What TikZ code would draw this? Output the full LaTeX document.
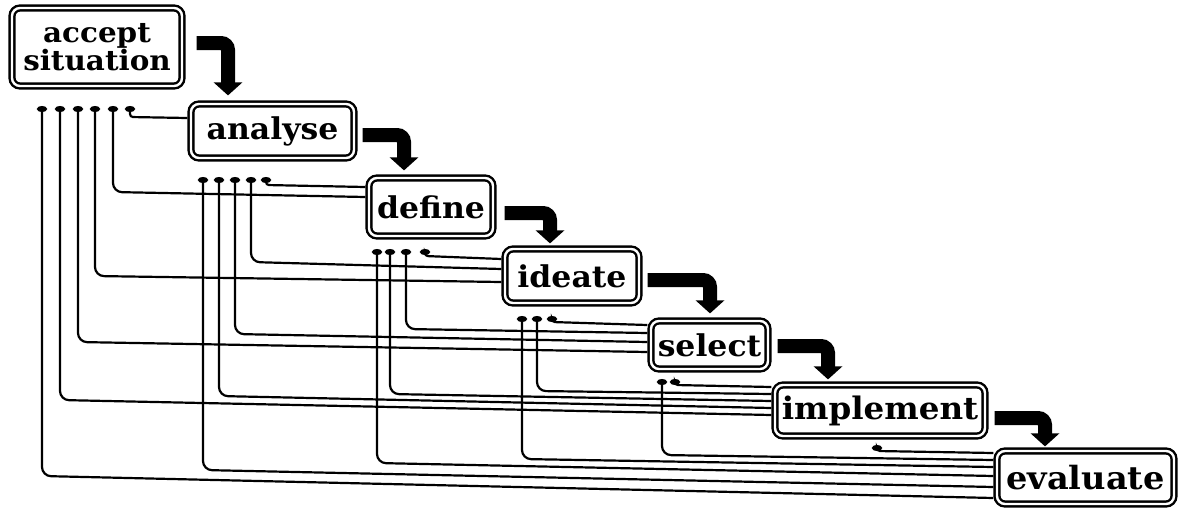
\documentclass[tikz,border=0pt]{standalone}
\usepackage{fontspec}
\setmainfont{DejaVu Serif}
\newfontfamily\boxfont{DejaVu Serif}[FakeStretch=1.05]
\usetikzlibrary{arrows.meta}
\begin{document}
\begin{tikzpicture}[x=1pt,y=-1pt,
  box/.style={draw, double, double distance=2.4pt, line width=2.4pt, rounded corners=8pt,
    inner sep=0pt, outer sep=3.6pt, font=\boxfont\bfseries\fontsize{30}{30}\selectfont},
  fb/.style={line width=2.2pt, rounded corners=9pt, -{Circle[length=6pt,width=10pt]}},
  hook/.style={fb, rounded corners=3pt},
  flow/.style={line width=14pt, rounded corners=7pt, -{Triangle[length=13pt,width=28pt]}}]
\useasboundingbox (0,0) rectangle (1182,512);

% boxes
\node[box, minimum width=170pt, minimum height=78pt, align=center,
  font=\boxfont\bfseries\fontsize{28}{25}\selectfont] (acc) at (97,47) {accept\\situation};
\node[box, minimum width=163pt, minimum height=54pt] (ana) at (272.5,131) {analyse};
\node[box, minimum width=124pt, minimum height=58pt] (def) at (431,207) {define};
\node[box, minimum width=134pt, minimum height=54pt] (ide) at (572,276) {ideate};
\node[box, minimum width=117pt, minimum height=48pt] (sel) at (709.5,345) {select};
\node[box, minimum width=210pt, minimum height=51pt,
  font=\boxfont\bfseries\fontsize{31}{31}\selectfont] (imp) at (880,410.5) {implement};
\node[box, minimum width=177pt, minimum height=53pt,
  font=\boxfont\bfseries\fontsize{32}{32}\selectfont] (eva) at (1085.5,477.5) {evaluate};

% forward flow arrows
\draw[flow] ([xshift=11pt,yshift=4pt]acc.east) -| ([xshift=-44.5pt,yshift=5pt]ana.north);
\draw[flow] ([xshift=5pt,yshift=-4pt]ana.east) -| ([xshift=-27pt,yshift=4pt]def.north);
\draw[flow] ([xshift=8pt,yshift=-6pt]def.east) -| ([xshift=-22pt,yshift=2pt]ide.north);
\draw[flow] ([xshift=5pt,yshift=-4pt]ide.east) -| ([xshift=0.5pt,yshift=4pt]sel.north);
\draw[flow] ([xshift=6pt,yshift=-1pt]sel.east) -| ([xshift=-52pt,yshift=2pt]imp.north);
\draw[flow] ([xshift=6pt,yshift=-7.5pt]imp.east) -| ([xshift=-40.5pt,yshift=1pt]eva.north);

% feedback tips
\coordinate (aE) at (42,106);  \coordinate (aM) at (60,106);  \coordinate (aS) at (78,106);
\coordinate (aI) at (95,106);  \coordinate (aD) at (113,106); \coordinate (aA) at (130,106);
\coordinate (bE) at (203,177); \coordinate (bM) at (219,177); \coordinate (bS) at (235,177);
\coordinate (bI) at (251,177); \coordinate (bD) at (266,177);
\coordinate (cE) at (377,249); \coordinate (cM) at (390,249); \coordinate (cS) at (406,249);
\coordinate (cI) at (425,249);
\coordinate (dE) at (522,316); \coordinate (dM) at (537,316); \coordinate (dS) at (552,316);
\coordinate (eE) at (662,379); \coordinate (eM) at (675,379);
\coordinate (fE) at (877,445);

% feedback lines back to accept situation
\draw[hook] ([yshift=13pt]ana.west) -- (130,117) -- (aA);
\draw[fb] ([yshift=10pt]def.west) -- (113,192) -- (aD);
\draw[fb] ([yshift=-6pt]ide.west) -- (95,276) -- (aI);
\draw[fb] ([yshift=-7pt]sel.west) -- (78,342) -- (aS);
\draw[fb] ([yshift=-4.5pt]imp.west) -- (60,400) -- (aM);
\draw[fb] ([yshift=-20.5pt]eva.west) -- (42,476) -- (aE);
% back to analyse
\draw[hook] ([yshift=20pt]def.west) -- (266,185) -- (bD);
\draw[fb] ([yshift=7pt]ide.west) -- (251,262) -- (bI);
\draw[fb] ([yshift=3pt]sel.west) -- (235,334) -- (bS);
\draw[fb] ([yshift=2.5pt]imp.west) -- (219,396) -- (bM);
\draw[fb] ([yshift=-9.5pt]eva.west) -- (203,470) -- (bE);
% back to define
\draw[hook] ([yshift=17pt]ide.west) -- (425,256) -- (cI);
\draw[fb] ([yshift=12pt]sel.west) -- (406,329) -- (cS);
\draw[fb] ([yshift=9.5pt]imp.west) -- (390,394) -- (cM);
\draw[fb] ([yshift=1.5pt]eva.west) -- (377,463) -- (cE);
% back to ideate
\draw[hook] ([yshift=20pt]sel.west) -- (552,322) -- (dS);
\draw[fb] ([yshift=16.5pt]imp.west) -- (537,391) -- (dM);
\draw[fb] ([yshift=10.5pt]eva.west) -- (522,459) -- (dE);
% back to select
\draw[hook] ([yshift=23.5pt]imp.west) -- (675,385) -- (eM);
\draw[fb] ([yshift=17.5pt]eva.west) -- (662,455) -- (eE);
% back to implement
\draw[hook] ([yshift=24.5pt]eva.west) -- (877,451) -- (fE);
\end{tikzpicture}
\end{document}
